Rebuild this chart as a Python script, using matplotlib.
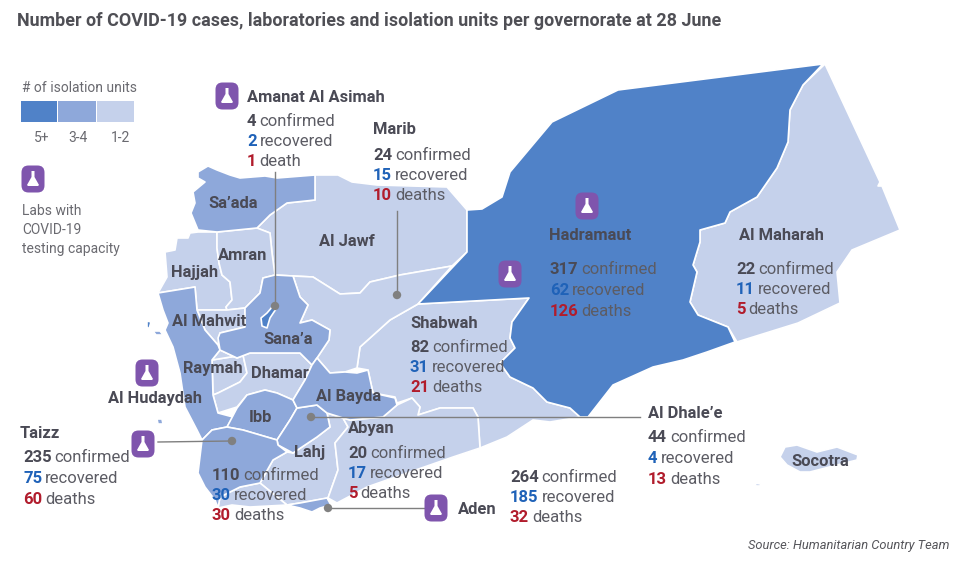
"""COVID-19 cases, labs and isolation units per Yemeni governorate, 28 June."""
# %% imports
import matplotlib
matplotlib.use("Agg")
import matplotlib.pyplot as plt
from matplotlib.patches import Polygon, FancyBboxPatch, Rectangle, Circle

# %% data -- outlines, in image pixels
hadramaut = [(823,64),(618,90),(552,122),(510,172),(502,197),(482,209),(467,210),(467,252),(418,304),(529,298),
             (512,322),(510,338),(515,348),(500,363),(510,377),(533,388),(547,402),(570,408),(580,417),(588,417),
             (613,385),(653,367),(683,360),(707,352),(735,342),(728,327),(698,315),(690,302),(697,272),(693,265),
             (700,242),(700,230),(725,223),(730,212),(757,197),(777,168),(788,142),(790,110),(803,85)]
maharah = [(825,64),(880,182),(878,186),(882,186),(900,230),(852,250),(837,272),(840,303),(798,323),(737,342),
           (728,327),(698,315),(690,302),(697,272),(693,265),(700,242),(700,230),(725,223),(730,212),(757,197),
           (777,168),(788,142),(790,110),(803,85)]
socotra = [(780,457),(785,447),(797,445),(817,452),(837,447),(858,455),(857,460),(837,465),(810,472),(800,472),(787,465)]
shabwah = [(418,304),(529,298),(512,322),(510,338),(515,348),(500,363),(510,377),(533,388),(547,402),(570,408),
           (580,417),(550,422),(533,420),(507,437),(480,448),(478,417),(473,408),(440,408),(418,415),(420,407),
           (412,398),(397,403),(395,397),(373,393),(368,370),(357,368),(360,347),(390,320)]
jawf = [(315,175),(338,175),(352,182),(377,185),(447,187),(467,210),(467,252),(452,266),(400,275),(370,282),
        (360,293),(340,294),(313,277),(293,276),(275,275),(272,253),(270,233),(257,228),(270,215),(287,203),(315,200)]
marib = [(293,276),(313,277),(340,294),(360,293),(370,282),(400,275),(452,266),(418,304),(390,320),(360,347),
         (357,368),(345,372),(330,373),(317,358),(329,340),(330,330),(312,320),(300,323),(308,305),(300,297)]
saada = [(315,175),(277,178),(265,176),(240,178),(230,175),(217,170),(208,166),(198,172),(198,178),(205,182),(193,192),
         (195,203),(191,213),(198,230),(217,232),(237,230),(257,228),(270,215),(287,203),(315,200)]
hajjah = [(165,252),(175,250),(177,238),(188,238),(190,233),(198,232),(217,232),(217,248),(219,263),(222,275),
          (230,282),(232,300),(226,307),(227,310),(197,310),(195,287),(158,293),(167,277)]
amran = [(217,232),(237,230),(257,228),(270,233),(272,253),(275,275),(263,278),(260,293),(245,308),(227,310),
         (226,307),(232,300),(230,282),(222,275),(219,263),(217,248)]
sanaa = [(263,278),(275,275),(293,276),(300,297),(308,305),(300,323),(312,320),(330,330),(329,340),(317,358),
         (312,365),(300,353),(277,353),(250,353),(237,358),(220,350),(218,338),(220,333),(245,327),(245,308),(260,293)]
amanat = [(267,313),(273,306),(276,309),(270,318),(267,328),(262,326),(261,318)]
mahwit = [(197,310),(227,310),(245,308),(245,327),(220,333),(218,345),(205,330)]
hudaydah = [(158,293),(195,287),(197,310),(205,330),(218,345),(220,350),(212,360),(213,395),(218,413),(233,417),
            (227,427),(212,430),(202,440),(197,430),(185,407),(180,373),(173,347),(165,330),(168,323),(163,310)]
raymah = [(212,360),(243,355),(247,373),(240,382),(218,393),(213,395)]
dhamar = [(212,360),(220,350),(237,358),(250,353),(277,353),(300,353),(312,365),(305,380),(293,400),(277,393),
          (265,390),(247,395),(237,407),(218,413),(213,395),(218,393),(240,382),(247,373),(243,355)]
ibb = [(247,395),(265,390),(277,393),(293,400),(297,408),(290,420),(277,440),(243,430),(227,427),(237,408)]
dhale = [(297,408),(317,405),(327,413),(330,427),(317,437),(293,453),(278,445),(277,440),(290,420)]
taizz = [(227,427),(243,430),(277,440),(278,445),(287,452),(273,460),(260,483),(240,487),(220,497),(218,508),
         (215,500),(205,487),(198,473),(202,440),(212,430)]
bayda = [(297,408),(293,400),(305,380),(312,365),(317,358),(330,373),(345,372),(357,373),(368,370),(373,393),
         (395,398),(397,405),(383,417),(350,420),(343,418),(327,413),(317,405)]
lahj = [(327,413),(343,418),(348,427),(335,443),(338,470),(328,498),(300,503),(287,505),(260,483),(273,460),
        (287,452),(293,453),(317,437),(330,427)]
lahj_south = [(218,508),(220,497),(240,487),(260,483),(287,505),(250,507),(232,505)]
aden = [(287,505),(300,503),(327,498),(331,505),(320,508),(312,512),(300,508)]
abyan = [(343,418),(350,420),(383,417),(397,405),(412,398),(420,407),(418,415),(440,408),(473,408),(478,417),
         (480,448),(453,457),(407,473),(367,487),(337,503),(328,498),(338,470),(335,443),(348,427)]
islet_a = [(147,321),(151,322),(149,329),(147,327)]
islet_b = [(153,331),(160,331),(163,335),(156,335)]
islet_c = [(157,419),(162,419),(163,424),(158,424)]
islet_d = [(755,483),(761,484),(760,486),(756,486)]

shapes_dark = [hadramaut, amanat, islet_a]
shapes_mid = [saada, hudaydah, sanaa, ibb, dhale, taizz, bayda, aden, islet_b, islet_c]
shapes_light = [maharah, shabwah, jawf, marib, hajjah, amran, mahwit, raymah, dhamar, lahj, lahj_south, abyan, socotra, islet_d]

legend_labels = ["5+", "3-4", "1-2"]
place_names = ["Sa\u2019ada", "Al Jawf", "Amran", "Hajjah", "Al Mahwit", "Sana\u2019a", "Raymah", "Dhamar",
               "Al Hudaydah", "Al Bayda", "Ibb", "Lahj", "Socotra"]
place_xy = [(233,203), (347,241), (243,256), (195,273), (209,321), (288,340), (213,369), (280,374),
            (155,398), (349,396), (260,417), (310,452), (820,461)]
head_names = ["Amanat Al Asimah", "Marib", "Hadramaut", "Al Maharah", "Shabwah", "Al Dhale\u2019e", "Taizz", "Abyan", "Aden"]
head_xy = [(247,97), (373,129), (549,236), (739,236), (410,324), (648,413), (20,433), (348,428), (458,509)]

# one block per stat group: x, y of first line, then confirmed / recovered / deaths
stat_xy = [(247,121), (373,155), (550,270), (736,269), (410,347), (648,438), (23,458), (212,475), (348,453), (510,477)]
confirmed = [4, 24, 317, 22, 82, 44, 235, 110, 20, 264]
recovered = [2, 15, 62, 11, 31, 4, 75, 30, 17, 185]
deaths = [1, 10, 126, 5, 21, 13, 60, 30, 5, 32]
stat_step = 20.5

lab_xy = [(33,179), (227,96), (587,206), (510,274), (147,373), (143,444), (436,508)]
leader_lines = [((275,172),(275,306)), ((397,211),(397,295)), ((640,417),(311,417)), ((158,442),(232,441)), ((425,508),(328,508))]

# %% style
DARK, MID, LIGHT = "#5082c8", "#8ea8da", "#c5d1eb"
INK, GREY, BLUE, RED, PURPLE = "#4a4a55", "#6a6a70", "#1f62b8", "#b11c2c", "#7f55ad"
plt.rcParams["font.family"] = ["Roboto", "DejaVu Sans"]

fig = plt.figure(figsize=(9.63, 5.71), dpi=100)
ax = fig.add_axes([0, 0, 1, 1])
ax.set_xlim(0, 963); ax.set_ylim(571, 0); ax.axis("off")

# %% map
for group, colour in [(shapes_light, LIGHT), (shapes_mid, MID), (shapes_dark, DARK)]:
    for pts in group:
        ax.add_patch(Polygon(pts, closed=True, fc=colour, ec="white", lw=1.2, joinstyle="round", zorder=2))

# %% leaders, dot at the far end
for a, b in leader_lines:
    ax.plot([a[0], b[0]], [a[1], b[1]], color="#7f7f7f", lw=1, zorder=3)
    ax.add_patch(Circle(b, 4.2, fc="#808080", ec="none", zorder=4))

# %% legend
x_edges = [21, 58, 97, 135]
for i, c in enumerate([DARK, MID, LIGHT]):
    ax.add_patch(Rectangle((x_edges[i], 101), x_edges[i+1] - x_edges[i] - 1, 21, fc=c, ec="none"))
for x, s in zip([42, 78, 120], legend_labels):
    ax.text(x, 138, s, color=GREY, fontsize=10, ha="center", va="center")
ax.text(22, 88, "# of isolation units", color=GREY, fontsize=10, va="center")
for y, s in zip([211, 230, 249], ["Labs with", "COVID-19", "testing capacity"]):
    ax.text(22, y, s, color=GREY, fontsize=10, va="center")

# %% lab icons
def lab_icon(x, y):
    ax.add_patch(FancyBboxPatch((x - 7.5, y - 9.5), 15, 19, boxstyle="round,pad=4,rounding_size=7",
                                fc=PURPLE, ec="none", zorder=5))
    flask = [(x-1.5,y-8),(x+1.5,y-8),(x+1.5,y-2),(x+6,y+6),(x+5,y+7),(x-5,y+7),(x-6,y+6),(x-1.5,y-2)]
    ax.add_patch(Polygon(flask, closed=True, fc="white", ec="none", zorder=6))

for x, y in lab_xy:
    lab_icon(x, y)

# %% text
ax.text(17, 21, "Number of COVID-19 cases, laboratories and isolation units per governorate at 28 June",
        color="#4f4f55", fontsize=12.9, fontweight="bold", va="center")
ax.text(949, 546, "Source: Humanitarian Country Team", color="#55555a", fontsize=9.3, style="italic", ha="right", va="center")
for s, (x, y) in zip(place_names, place_xy):
    ax.text(x, y, s, color=INK, fontsize=11.9, fontweight="bold", ha="center", va="center", zorder=7)
for s, (x, y) in zip(head_names, head_xy):
    ax.text(x, y, s, color=INK, fontsize=11.9, fontweight="bold", va="center", zorder=7)

renderer = fig.canvas.get_renderer()
inv = ax.transData.inverted()

def stat_line(x, y, n, word, colour):
    t = ax.text(x, y, str(n), color=colour, fontsize=12, fontweight="bold", va="center", zorder=7)
    right = inv.transform(t.get_window_extent(renderer))[1][0]
    ax.text(right + 3, y, word, color="#5c5c64", fontsize=12, va="center", zorder=7)

for (x, y), c, r, d in zip(stat_xy, confirmed, recovered, deaths):
    stat_line(x, y, c, "confirmed", INK)
    stat_line(x, y + stat_step, r, "recovered", BLUE)
    stat_line(x, y + 2 * stat_step, d, "death" if d == 1 else "deaths", RED)

fig.savefig("out.png", dpi=100)
